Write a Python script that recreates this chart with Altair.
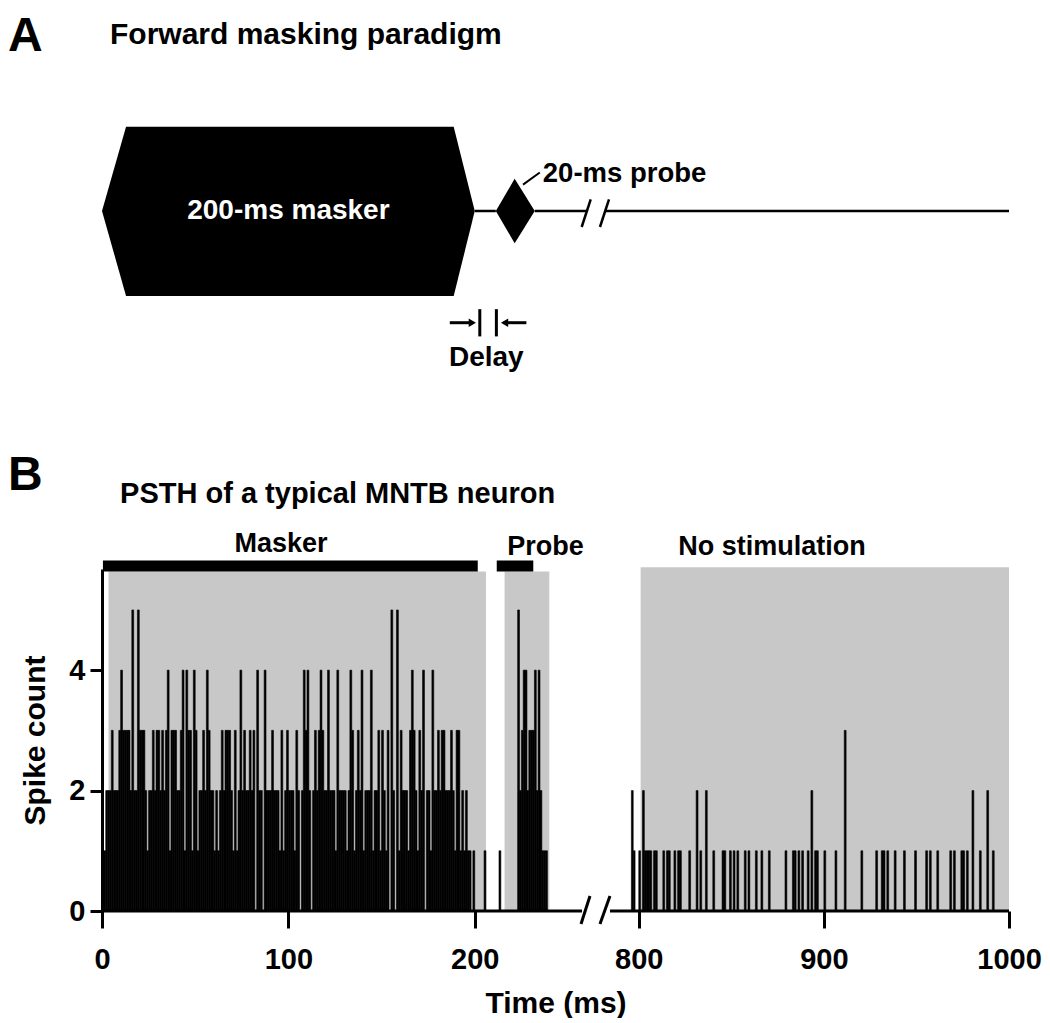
import altair as alt
import pandas as pd

FONT = "Liberation Sans"

# ---------------- Panel B data (spike count per 1-ms bin) ----------------
# bins 0..199 ms (masker window)
masker_counts = [
    1, 1, 2, 2, 2, 3, 2, 2, 2, 3,   # 0-9
    4, 3, 3, 3, 3, 2, 5, 2, 2, 5,   # 10-19
    3, 3, 3, 2, 1, 2, 2, 3, 2, 3,   # 20-29
    3, 2, 3, 2, 3, 4, 1, 3, 3, 3,   # 30-39
    2, 2, 3, 4, 1, 4, 3, 3, 1, 4,   # 40-49
    3, 1, 2, 2, 3, 2, 4, 3, 2, 2,   # 50-59
    1, 2, 1, 2, 3, 2, 3, 3, 3, 2,   # 60-69
    1, 3, 1, 2, 4, 2, 3, 2, 2, 3,   # 70-79
    2, 3, 0, 4, 2, 2, 0, 4, 2, 2,   # 80-89
    2, 3, 2, 2, 2, 1, 3, 1, 2, 3,   # 90-99
    2, 2, 2, 1, 3, 2, 0, 2, 4, 3,   # 100-109
    4, 2, 0, 2, 3, 2, 3, 4, 3, 2,   # 110-119
    2, 4, 2, 2, 2, 1, 4, 2, 2, 2,   # 120-129
    2, 1, 2, 4, 3, 1, 2, 3, 2, 4,   # 130-139
    1, 2, 2, 2, 4, 1, 2, 2, 3, 1,   # 140-149
    3, 2, 1, 3, 0, 5, 2, 0, 5, 1,   # 150-159
    3, 2, 2, 2, 1, 3, 4, 3, 2, 1,   # 160-169
    3, 2, 4, 0, 2, 2, 1, 4, 2, 2,   # 170-179
    3, 2, 3, 3, 2, 2, 2, 3, 2, 1,   # 180-189
    3, 3, 1, 2, 1, 2, 1, 1, 0, 1,   # 190-199
]
masker_t = list(range(len(masker_counts)))

# probe window
probe_t = [205, 213, 223, 224, 225, 226, 227, 228, 229, 230, 231, 232, 233, 234, 235, 236, 237, 238]
probe_counts = [1, 1, 5, 2, 3, 4, 4, 2, 3, 3, 3, 4, 2, 4, 2, 1, 1, 1]

# no-stimulation window
late_t = [796, 797, 800, 802, 803, 804, 805, 806, 808, 809, 813, 815, 816, 819, 821,
          822, 827, 831, 833, 836, 840, 845, 846, 849, 851, 853, 857, 859, 863, 866,
          870, 879, 883, 884, 886, 888, 891, 893, 895, 896, 900, 906, 911, 920, 928,
          931, 932, 934, 938, 943, 949, 955, 957, 961, 968, 970, 974, 975, 977, 980,
          984, 988, 991]
late_counts = [2, 1, 1, 2, 1, 1, 1, 1, 1, 1, 1, 1, 1, 1, 1,
               1, 1, 2, 1, 2, 1, 1, 1, 1, 1, 1, 1, 1, 1, 1,
               1, 1, 1, 1, 1, 1, 1, 2, 1, 1, 1, 1, 3, 1, 1,
               1, 1, 1, 1, 1, 1, 1, 1, 1, 1, 1, 1, 1, 1, 2,
               1, 2, 1]

# shaded analysis windows (ms) and their top (spike count units)
win_start = [3.5, 216, 801]
win_end = [206, 240, 1000]
win_top = [5.64, 5.64, 5.71]

# stimulus bars above the PSTH
stim_label = ["Masker", "Probe", "No stimulation"]
stim_label_t = [96, 238, 872]
stim_label_v = [6.09, 6.04, 6.04]
stim_bar_start = [0.5, 211.8]
stim_bar_end = [201.6, 231.4]
stim_bar_lo = 5.64
stim_bar_hi = 5.82

x_ticks = [0, 100, 200, 800, 900, 1000]
y_ticks = [0, 2, 4]

# broken time axis: 257..785 ms squeezed into the gap
break_domain = [0, 257, 785, 1000]
break_range = [0, 479, 509, 907]
axis_seg_start = [0, 767]
axis_seg_end = [275, 1000]
slashB_x = [257, 591]
slashB_x2 = [415, 767]
slashB_y = -0.216
slashB_y2 = 0.249

LEFT_T = -50.4   # position of the panel letters, left of the time origin

xscale = alt.Scale(domain=break_domain, range=break_range, nice=False, zero=False)
yscaleB = alt.Scale(domain=[0, 5.68], nice=False, zero=False)

x_axis = alt.Axis(values=x_ticks, format="d", domain=False, ticks=True, tickSize=17, tickWidth=3,
                  tickColor="black", labelFontSize=29, labelFont=FONT, labelFontWeight="bold",
                  labelColor="black", labelPadding=17, labelFlush=False, labelOverlap=False,
                  grid=False, title="Time (ms)", titleFont=FONT, titleFontSize=30,
                  titleFontWeight="bold", titleColor="black", titlePadding=14)
y_axis = alt.Axis(values=y_ticks, domain=True, domainWidth=3, domainColor="black",
                  ticks=True, tickSize=12, tickWidth=3, tickColor="black",
                  labelFontSize=29, labelFont=FONT, labelFontWeight="bold", labelColor="black",
                  labelPadding=5, labelFlush=False, labelOverlap=False, grid=False,
                  title="Spike count", titleFont=FONT, titleFontSize=30,
                  titleFontWeight="bold", titleColor="black", titlePadding=18)


def XB(f):
    return alt.X(f, type="quantitative", scale=xscale, axis=x_axis)


def YB(f):
    return alt.Y(f, type="quantitative", scale=yscaleB, axis=y_axis)


bins = pd.DataFrame({"t": masker_t + probe_t + late_t,
                     "count": masker_counts + probe_counts + late_counts})
bins = bins[bins["count"] > 0]

wins = pd.DataFrame({"s": win_start, "e": win_end, "top": win_top, "zero": 0})
stim_bars = pd.DataFrame({"s": stim_bar_start, "e": stim_bar_end,
                          "lo": stim_bar_lo, "hi": stim_bar_hi})
stim_text = pd.DataFrame({"label": stim_label, "t": stim_label_t, "v": stim_label_v})
axis_segs = pd.DataFrame({"s": axis_seg_start, "e": axis_seg_end, "v": 0})
slashesB = pd.DataFrame({"s": slashB_x, "e": slashB_x2, "lo": slashB_y, "hi": slashB_y2})
titleB = pd.DataFrame({"label": ["B"], "t": [LEFT_T], "v": [7.63]})
subtitleB = pd.DataFrame({"label": ["PSTH of a typical MNTB neuron"], "t": [9.7], "v": [6.92]})

noframe = alt.ViewBackground(stroke="transparent", strokeWidth=0)

grey = alt.Chart(wins).mark_rect(color="#c8c8c8").encode(
    x=XB("s"), x2="e", y=YB("zero"), y2="top")
bars = alt.Chart(bins).transform_calculate(t_end="datum.t + 1", base="0").mark_rect(
    color="black", stroke="black", strokeWidth=0.6).encode(
    x=XB("t"), x2="t_end:Q", y=YB("count"), y2="base:Q")
segs = alt.Chart(axis_segs).mark_rule(color="black", strokeWidth=3).encode(
    x=XB("s"), x2="e", y=YB("v"))
slashB = alt.Chart(slashesB).mark_rule(color="black", strokeWidth=3).encode(
    x=XB("s"), x2="e", y=YB("lo"), y2="hi")
sbars = alt.Chart(stim_bars).mark_rect(color="black").encode(
    x=XB("s"), x2="e", y=YB("lo"), y2="hi")
stext = alt.Chart(stim_text).mark_text(font=FONT, fontSize=27, fontWeight="bold",
                                       color="black").encode(x=XB("t"), y=YB("v"), text="label")
tB = alt.Chart(titleB).mark_text(font=FONT, fontSize=48, fontWeight="bold", align="left",
                                 baseline="top", color="black").encode(
    x=XB("t"), y=YB("v"), text="label")
stB = alt.Chart(subtitleB).mark_text(font=FONT, fontSize=29, fontWeight="bold", align="left",
                                     baseline="middle", color="black").encode(
    x=XB("t"), y=YB("v"), text="label")

chartB = alt.layer(grey, bars, segs, slashB, sbars, stext, tB, stB).properties(
    width=907, height=342, view=noframe)

# ---------------- Panel A: forward masking paradigm diagram ----------------
A_TOP = 2.509
A_BOTTOM = -2.303
yscaleA = alt.Scale(domain=[A_BOTTOM, A_TOP], nice=False, zero=False)


def XA(f):
    return alt.X(f, type="quantitative", scale=xscale, axis=None)


def YA(f):
    return alt.Y(f, type="quantitative", scale=yscaleA, axis=None)


masker_shape = pd.DataFrame({"t": [0, 12.9, 188.7, 200], "hi": [0, 1.02, 1.02, 0],
                             "lo": [0, -1.03, -1.03, 0]})
probe_shape = pd.DataFrame({"t": [211.3, 221.4, 232.2], "hi": [0, 0.39, 0],
                            "lo": [0, -0.39, 0]})
time_line = pd.DataFrame({"s": [200, 232.2, 692], "e": [211.3, 357, 1000], "v": 0})
slashesA = pd.DataFrame({"s": [269, 591], "e": [428, 750], "lo": -0.194, "hi": 0.142})
leader = pd.DataFrame({"s": [225.9], "e": [234.9], "lo": [0.32], "hi": [0.466]})
delay_bars = pd.DataFrame({"t": [202.7, 211.6], "lo": -1.52, "hi": -1.19})
delay_arrows = pd.DataFrame({"s": [186.6, 215.5], "e": [199.0, 227.7], "v": -1.354})
arrow_heads = pd.DataFrame({"t": [198.7, 216.0], "v": -1.354,
                            "shape": ["triangle-right", "triangle-left"]})
textsA = pd.DataFrame({
    "label": ["200-ms masker", "Delay"],
    "t": [100, 206.2], "v": [0, -1.78], "color": ["white", "black"]})
probe_label = pd.DataFrame({"label": ["20-ms probe"], "t": [236.5], "v": [0.45]})
titleA = pd.DataFrame({"label": ["A"], "t": [LEFT_T], "v": [2.40]})
subtitleA = pd.DataFrame({"label": ["Forward masking paradigm"], "t": [4.3], "v": [2.13]})

hexa = alt.Chart(masker_shape).mark_area(color="black").encode(
    x=XA("t"), y=YA("hi"), y2="lo")
diam = alt.Chart(probe_shape).mark_area(color="black").encode(
    x=XA("t"), y=YA("hi"), y2="lo")
tline = alt.Chart(time_line).mark_rule(color="black", strokeWidth=2.5).encode(
    x=XA("s"), x2="e", y=YA("v"))
slashA = alt.Chart(slashesA).mark_rule(color="black", strokeWidth=2.5).encode(
    x=XA("s"), x2="e", y=YA("lo"), y2="hi")
lead = alt.Chart(leader).mark_rule(color="black", strokeWidth=2).encode(
    x=XA("s"), x2="e", y=YA("lo"), y2="hi")
dbars = alt.Chart(delay_bars).mark_rule(color="black", strokeWidth=3).encode(
    x=XA("t"), y=YA("lo"), y2="hi")
darrows = alt.Chart(delay_arrows).mark_rule(color="black", strokeWidth=3).encode(
    x=XA("s"), x2="e", y=YA("v"))
dheads = alt.Chart(arrow_heads).mark_point(filled=True, color="black", size=70, opacity=1).encode(
    x=XA("t"), y=YA("v"),
    shape=alt.Shape("shape:N", scale=None, legend=None))
tA = alt.Chart(textsA).mark_text(font=FONT, fontSize=28, fontWeight="bold").encode(
    x=XA("t"), y=YA("v"), text="label", color=alt.Color("color:N", scale=None, legend=None))
pl = alt.Chart(probe_label).mark_text(font=FONT, fontSize=27.5, fontWeight="bold", align="left",
                                      color="black").encode(x=XA("t"), y=YA("v"), text="label")
ttA = alt.Chart(titleA).mark_text(font=FONT, fontSize=48, fontWeight="bold", align="left",
                                  baseline="top", color="black").encode(
    x=XA("t"), y=YA("v"), text="label")
stA = alt.Chart(subtitleA).mark_text(font=FONT, fontSize=30, fontWeight="bold", align="left",
                                     baseline="middle", color="black").encode(
    x=XA("t"), y=YA("v"), text="label")

chartA = alt.layer(hexa, diam, tline, slashA, lead, dbars, darrows, dheads, tA, pl, ttA, stA
                   ).properties(width=907, height=round((A_TOP - A_BOTTOM) * 82.5), view=noframe)

chart = alt.vconcat(chartA, chartB, spacing=50).properties(
    padding={"left": 0, "top": -4, "right": 0, "bottom": 0}
).configure_view(stroke="transparent", strokeWidth=0).configure(background="white")

chart.save("out.html", embed_options={"renderer": "svg", "actions": False})
